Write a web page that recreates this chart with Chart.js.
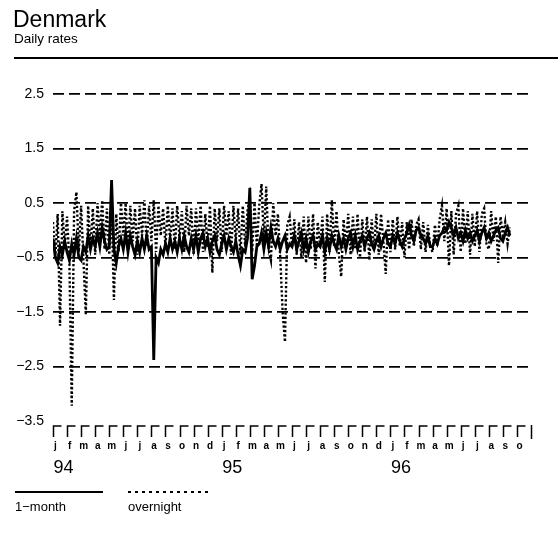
<!DOCTYPE html>
<html>
<head>
<meta charset="utf-8">
<script src="https://cdn.jsdelivr.net/npm/chart.js@4.4.1/dist/chart.umd.min.js"></script>
<style>
  body { margin: 0; background: #fff; }
  #wrap { position: relative; width: 558px; height: 551px; font-family: "Liberation Sans", Arial, sans-serif; color: #000; overflow: hidden; }
  #c { position: absolute; left: 0; top: 0; }
  .title { position: absolute; left: 13px; top: 6px; font-size: 23px; }
  .sub { position: absolute; left: 14px; top: 31px; font-size: 13.5px; }
  .rule { position: absolute; left: 14px; right: 0; top: 57px; height: 2px; background: #000; }
  .leg-line { position: absolute; top: 491px; height: 2px; }
  .leg-text { position: absolute; top: 499px; font-size: 13px; }
</style>
</head>
<body>
<div id="wrap">
  <canvas id="c" width="558" height="551"></canvas>
  <div class="title">Denmark</div>
  <div class="sub">Daily rates</div>
  <div class="rule"></div>
  <div class="leg-line" style="left:15px;width:88px;background:#000"></div>
  <div class="leg-text" style="left:15px">1−month</div>
  <div class="leg-line" style="left:128px;width:82px;background:repeating-linear-gradient(to right,#000 0 3px,transparent 3px 7px)"></div>
  <div class="leg-text" style="left:128px">overnight</div>
</div>
<script>
// month letters along the axis, Jan 94 .. Oct 96
var monthLetters = ['j','f','m','a','m','j','j','a','s','o','n','d'];
var monthCount = 34;
var yearLabels = ['94', '95', '96'];
var yTicks = [2.5, 1.5, 0.5, -0.5, -1.5, -2.5, -3.5];
var pointsPerMonth = 6;

// 1-month rate, 6 readings per month from Jan 94
var oneMonth = [
  -0.15, -0.5, -0.6, -0.3, -0.45, -0.2,    // jan 94
  -0.4, -0.55, -0.25, -0.45, -0.15, -0.5,
  -0.55, -0.3, -0.4, -0.1, -0.35, -0.15,
  -0.3, -0.05, -0.3, 0.05, -0.2, -0.35,
  -0.3, 0.92, -0.35, -0.6, -0.3, -0.15,
  -0.35, -0.05, -0.4, -0.1, -0.3, -0.45,
  -0.2, -0.4, -0.15, -0.35, -0.1, -0.35,
  -0.3, -2.38, -0.5, -0.6, -0.35, -0.45,
  -0.25, -0.4, -0.15, -0.35, -0.2, -0.4,
  -0.15, -0.35, -0.1, -0.3, -0.4, -0.15,
  -0.35, -0.1, -0.4, -0.15, -0.05, -0.3,
  -0.15, -0.4, -0.2, -0.1, -0.35, -0.45,
  -0.25, -0.1, -0.35, -0.15, -0.3, -0.4,   // jan 95
  -0.2, -0.45, -0.65, -0.35, -0.4, -0.15,
  0.78, -0.9, -0.65, -0.3, -0.25, -0.05,
  -0.35, -0.05, -0.3, 0.05, -0.2, -0.3,
  -0.15, -0.35, -0.2, -0.1, -0.35, -0.25,
  -0.3, -0.1, -0.35, -0.2, -0.05, -0.35,
  -0.15, -0.4, -0.2, -0.1, -0.35, -0.25,
  -0.3, -0.1, -0.4, -0.15, -0.35, -0.1,
  -0.25, -0.35, -0.1, -0.3, -0.15, -0.35,
  -0.15, -0.05, -0.3, -0.1, -0.35, -0.2,
  -0.1, -0.3, -0.15, -0.05, -0.25, -0.35,
  -0.2, -0.1, -0.3, -0.15, -0.05, -0.25,
  -0.3, -0.1, -0.25, -0.05, -0.2, -0.3,    // jan 96
  -0.15, -0.05, 0.1, -0.1, -0.2, 0.0,
  0.05, -0.1, -0.15, -0.25, -0.1, -0.3,
  -0.3, -0.15, -0.25, -0.1, -0.05, 0.05,
  0.0, 0.15, 0.05, -0.1, 0.05, -0.15,
  -0.05, -0.2, 0.0, -0.15, -0.05, -0.2,
  -0.1, 0.0, -0.2, -0.05, 0.05, -0.15,
  -0.05, -0.2, -0.1, 0.0, 0.05, -0.15,
  -0.2, -0.05, 0.05, -0.1
];

// overnight rate, same dates
var overnight = [
  0.15, -0.5, 0.3, -1.75, 0.35, -0.3,      // jan 94
  0.25, -0.6, -3.22, 0.35, 0.7, -0.4,
  0.45, -0.55, -1.55, 0.45, -0.35, 0.4,
  -0.45, 0.5, -0.1, 0.55, -0.35, 0.4,
  -0.45, 0.45, -1.28, 0.3, -0.4, 0.5,
  -0.1, 0.5, -0.35, 0.45, -0.2, 0.4,
  -0.45, 0.45, -0.1, 0.55, -0.3, 0.45,
  -0.2, 0.55, -0.4, 0.45, -0.1, 0.4,
  -0.3, 0.45, -0.2, 0.4, -0.35, 0.45,
  -0.15, 0.35, -0.4, 0.45, -0.1, 0.4,
  -0.45, 0.4, -0.2, 0.45, -0.4, 0.3,
  -0.3, 0.45, -0.78, 0.4, -0.2, 0.4,
  -0.4, 0.45, -0.1, 0.35, -0.45, 0.45,     // jan 95
  -0.2, 0.4, -0.45, 0.45, -0.3, 0.35,
  0.6, -0.4, 0.5, -0.3, 0.45, 0.85,
  -0.2, 0.8, -0.35, -0.55, 0.5, -0.1,
  0.3, -0.5, -1.5, -2.05, 0.1, 0.25,
  -0.3, 0.2, -0.45, 0.15, -0.5, 0.25,
  -0.6, 0.25, -0.35, 0.3, -0.7, 0.15,
  -0.3, 0.25, -0.95, 0.3, -0.4, 0.55,
  -0.3, 0.35, -0.45, -0.85, 0.2, -0.3,
  0.3, -0.45, 0.25, -0.35, 0.3, -0.5,
  0.2, -0.4, 0.25, -0.55, 0.2, -0.35,
  0.3, -0.45, 0.3, -0.2, -0.8, 0.2,
  -0.4, 0.2, -0.35, 0.25, -0.3, 0.15,      // jan 96
  -0.5, 0.15, -0.35, 0.2, -0.3, 0.1,
  0.2, -0.35, 0.15, -0.4, 0.1, -0.3,
  -0.4, 0.1, -0.3, 0.2, 0.45, -0.2,
  0.4, -0.65, 0.35, -0.45, 0.3, 0.45,
  -0.4, 0.4, -0.25, 0.35, -0.45, 0.3,
  -0.3, 0.35, -0.4, 0.3, 0.4, -0.25,
  -0.35, 0.35, -0.2, 0.25, -0.6, 0.25,
  -0.1, 0.15, -0.25, 0.05
];

function toPoints(arr) {
  return arr.map(function (v, i) { return { x: i / pointsPerMonth, y: v }; });
}

function fmt(v) {
  return (v < 0 ? '\u2212' : '') + Math.abs(v).toFixed(1);
}

// month ticks, letters and years under the plot
var monthAxis = {
  id: 'monthAxis',
  afterDraw: function (chart) {
    var ctx = chart.ctx, xs = chart.scales.x;
    var top = 426, bottom = 437;
    ctx.save();
    ctx.strokeStyle = '#000';
    ctx.lineWidth = 1.5;
    for (var m = 0; m <= monthCount; m++) {
      var px = Math.round(xs.getPixelForValue(m)) + 0.5;
      ctx.beginPath();
      if (m < monthCount) {
        ctx.moveTo(px, bottom);
        ctx.lineTo(px, top);
        ctx.lineTo(px + 8, top);
      } else {
        ctx.moveTo(px, top - 1);
        ctx.lineTo(px, bottom + 2);
      }
      ctx.stroke();
    }
    ctx.fillStyle = '#000';
    ctx.textAlign = 'center';
    ctx.textBaseline = 'middle';
    ctx.font = 'bold 10px "Liberation Sans", Arial, sans-serif';
    for (var k = 0; k < monthCount; k++) {
      ctx.fillText(monthLetters[k % 12], xs.getPixelForValue(k) + 2.5, 446);
    }
    ctx.textAlign = 'left';
    ctx.font = '18px "Liberation Sans", Arial, sans-serif';
    yearLabels.forEach(function (y, i) {
      ctx.fillText(y, xs.getPixelForValue(i * 12) + 0.5, 468);
    });
    ctx.restore();
  }
};

new Chart(document.getElementById('c'), {
  type: 'line',
  data: {
    datasets: [{
      label: '1-month',
      data: toPoints(oneMonth),
      borderColor: '#000',
      borderWidth: 2.8,
      pointRadius: 0,
      tension: 0
    }, {
      label: 'overnight',
      data: toPoints(overnight),
      borderColor: '#000',
      borderWidth: 2.4,
      borderDash: [2.2, 2.2],
      pointRadius: 0,
      tension: 0
    }]
  },
  options: {
    responsive: false,
    animation: false,
    layout: { padding: { left: 0, right: 27, top: 94, bottom: 130 } },
    plugins: { legend: { display: false }, tooltip: { enabled: false } },
    scales: {
      x: { type: 'linear', min: 0, max: monthCount, display: false },
      y: {
        min: -3.5,
        max: 2.5,
        afterFit: function (s) { s.width = 53; },
        afterBuildTicks: function (s) { s.ticks = yTicks.map(function (v) { return { value: v }; }); },
        border: { display: false, dash: [11, 5] },
        grid: {
          drawTicks: false,
          color: function (c) { return c.tick && c.tick.value === -3.5 ? 'rgba(0,0,0,0)' : '#000'; },
          lineWidth: 1.8
        },
        ticks: {
          padding: 9,
          color: '#000',
          font: { family: '"Liberation Sans", Arial, sans-serif', size: 14 },
          callback: function (v) { return fmt(v); }
        }
      }
    }
  },
  plugins: [monthAxis]
});
</script>
</body>
</html>
